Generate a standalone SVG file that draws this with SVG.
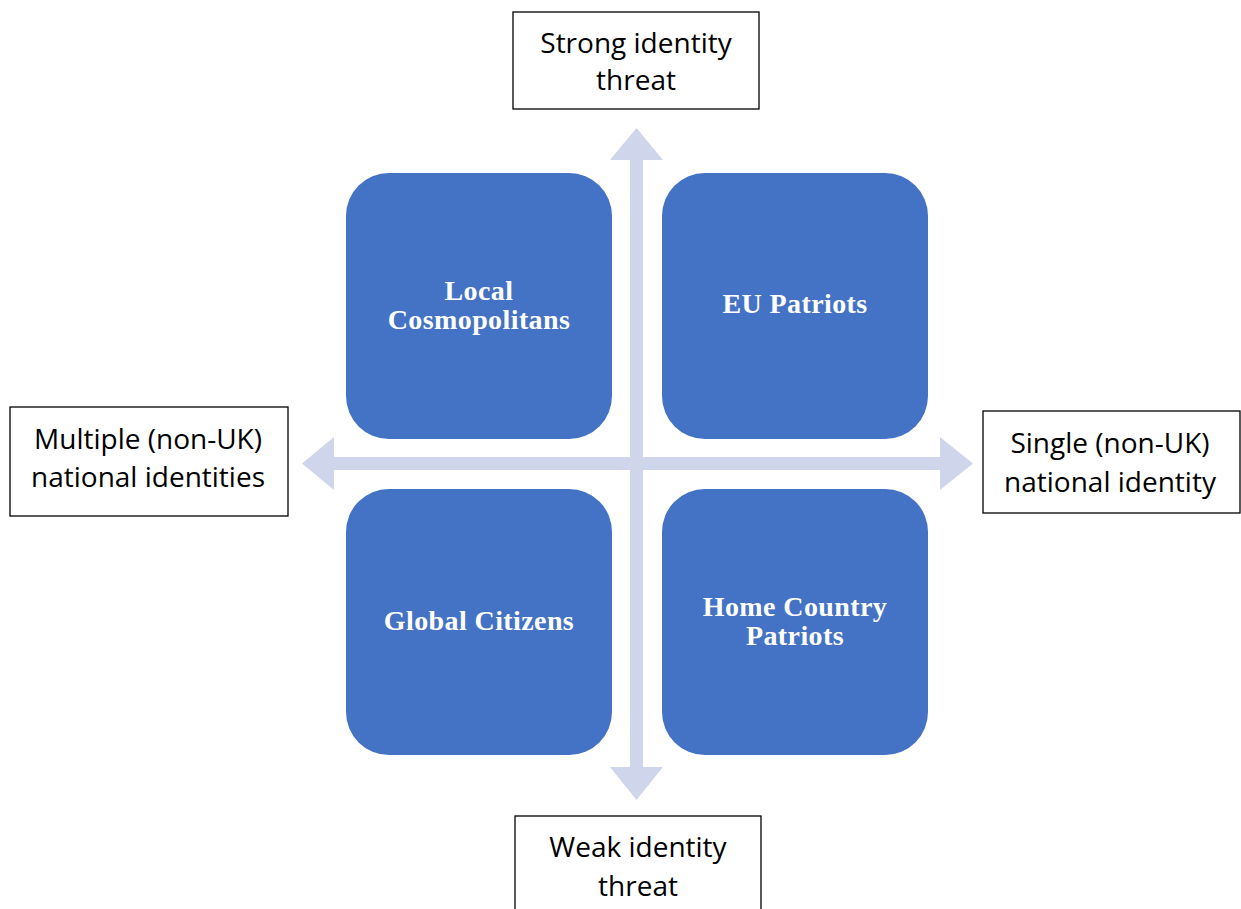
<svg xmlns="http://www.w3.org/2000/svg" width="1241" height="909" viewBox="0 0 1241 909">
<style>
.q{fill:#4472C4}
.qt{font-family:"Liberation Serif","Times New Roman",serif;font-weight:bold;font-size:28px;letter-spacing:0.4px;fill:#fff;text-anchor:middle}
.lb{fill:#fff;stroke:#000;stroke-width:1.3}
.lt{font-family:"Open Sans","Noto Sans",sans-serif;font-size:28px;fill:#000;text-anchor:middle}
.ar{fill:#CFD5EA}
</style>
<rect width="1241" height="909" fill="#fff"/>
<g id="connectors">
<rect class="ar" x="630" y="158" width="13" height="612"/>
<polygon class="ar" points="636.5,128 663,160 610,160"/>
<polygon class="ar" points="636.5,800 663,767 610,767"/>
<rect class="ar" x="332" y="457" width="610" height="13"/>
<polygon class="ar" points="302,463.5 334,437 334,490"/>
<polygon class="ar" points="973,463.5 940,437 940,490"/>
</g>
<g id="local-cosmopolitans">
<rect class="q" x="346" y="173" width="266" height="266" rx="43"/>
<text class="qt" x="479" y="300">Local</text>
<text class="qt" x="479" y="329">Cosmopolitans</text>
</g>
<g id="eu-patriots">
<rect class="q" x="662" y="173" width="266" height="266" rx="43"/>
<text class="qt" x="795" y="313">EU Patriots</text>
</g>
<g id="global-citizens">
<rect class="q" x="346" y="489" width="266" height="266" rx="43"/>
<text class="qt" x="479" y="630">Global Citizens</text>
</g>
<g id="home-country-patriots">
<rect class="q" x="662" y="489" width="266" height="266" rx="43"/>
<text class="qt" x="795" y="616">Home Country</text>
<text class="qt" x="795" y="645">Patriots</text>
</g>
<g id="strong-threat">
<rect class="lb" x="513" y="12" width="246" height="97"/>
<text class="lt" x="636" y="53">Strong identity</text>
<text class="lt" x="636" y="90">threat</text>
</g>
<g id="weak-threat">
<rect class="lb" x="515" y="816" width="246" height="100"/>
<text class="lt" x="638" y="857">Weak identity</text>
<text class="lt" x="638" y="896">threat</text>
</g>
<g id="multiple">
<rect class="lb" x="10" y="407" width="278" height="109"/>
<text class="lt" x="148" y="449">Multiple (non-UK)</text>
<text class="lt" x="148" y="487">national identities</text>
</g>
<g id="single">
<rect class="lb" x="983" y="411" width="257" height="102"/>
<text class="lt" x="1110" y="453">Single (non-UK)</text>
<text class="lt" x="1110" y="492">national identity</text>
</g>
</svg>
